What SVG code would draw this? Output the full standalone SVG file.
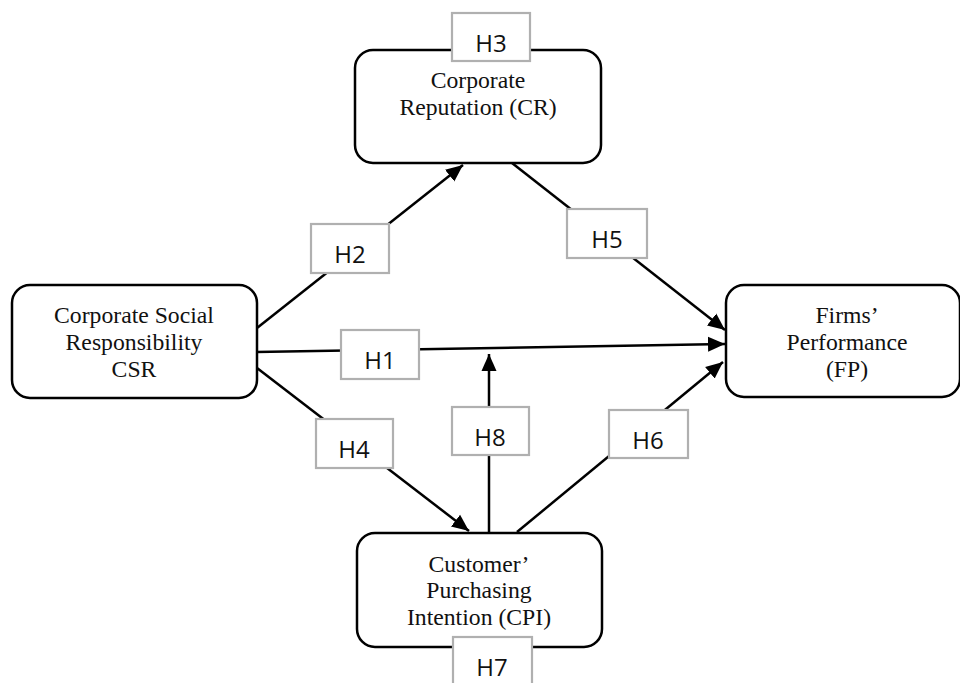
<svg xmlns="http://www.w3.org/2000/svg" width="960" height="683" viewBox="0 0 960 683">
<defs>
<style>
.node{fill:#fff;stroke:#000;stroke-width:2.5}
.nt{font-family:"Liberation Serif","Times New Roman",serif;font-size:23.7px;fill:#111;text-anchor:middle}
.lbl{fill:#fff;stroke:#b0b0b0;stroke-width:2.2}
.lt{font-family:"Open Sans","Liberation Sans",sans-serif;font-size:24px;fill:#111;text-anchor:middle}
.edge{stroke:#000;stroke-width:2.5;fill:none}
</style>
<marker id="arr" markerUnits="userSpaceOnUse" markerWidth="20" markerHeight="18" refX="17" refY="9" orient="auto">
<path d="M0,1.5 L17,9 L0,16.5 Z" fill="#000"/>
</marker>
</defs>
<rect width="960" height="683" fill="#fff"/>
<g id="connectors">
<line class="edge" x1="257" y1="328" x2="463" y2="165" marker-end="url(#arr)"/>
<line class="edge" x1="256" y1="352" x2="725" y2="344" marker-end="url(#arr)"/>
<line class="edge" x1="257" y1="368" x2="469" y2="531" marker-end="url(#arr)"/>
<line class="edge" x1="512" y1="163" x2="725" y2="330" marker-end="url(#arr)"/>
<line class="edge" x1="517" y1="532" x2="723" y2="362" marker-end="url(#arr)"/>
<line class="edge" x1="489" y1="533" x2="489" y2="354" marker-end="url(#arr)"/>
</g>
<g id="node-cr">
<rect class="node" x="355" y="50" width="246" height="113" rx="18"/>
<text class="nt" x="478" y="88">Corporate</text>
<text class="nt" x="478" y="115">Reputation (CR)</text>
</g>
<g id="node-csr">
<rect class="node" x="12" y="285" width="245" height="113" rx="18"/>
<text class="nt" x="134" y="323">Corporate Social</text>
<text class="nt" x="134" y="350">Responsibility</text>
<text class="nt" x="134" y="377">CSR</text>
</g>
<g id="node-fp">
<rect class="node" x="726" y="285" width="234" height="112" rx="18"/>
<text class="nt" x="847" y="323">Firms’</text>
<text class="nt" x="847" y="350">Performance</text>
<text class="nt" x="847" y="377">(FP)</text>
</g>
<g id="node-cpi">
<rect class="node" x="357" y="533" width="245" height="114" rx="18"/>
<text class="nt" x="479" y="572">Customer’</text>
<text class="nt" x="479" y="598">Purchasing</text>
<text class="nt" x="479" y="625">Intention (CPI)</text>
</g>
<g id="label-h3"><rect class="lbl" x="452" y="13" width="78" height="48"/><text class="lt" x="491" y="52">H3</text></g>
<g id="label-h2"><rect class="lbl" x="311" y="224" width="78" height="49"/><text class="lt" x="350" y="263">H2</text></g>
<g id="label-h1"><rect class="lbl" x="341" y="330" width="78" height="49"/><text class="lt" x="380" y="369">H1</text></g>
<g id="label-h5"><rect class="lbl" x="567" y="209" width="80" height="49"/><text class="lt" x="607" y="248">H5</text></g>
<g id="label-h4"><rect class="lbl" x="316" y="419" width="77" height="49"/><text class="lt" x="354" y="458">H4</text></g>
<g id="label-h8"><rect class="lbl" x="452" y="407" width="77" height="48"/><text class="lt" x="490" y="446">H8</text></g>
<g id="label-h6"><rect class="lbl" x="609" y="410" width="79" height="48"/><text class="lt" x="648" y="449">H6</text></g>
<g id="label-h7"><rect class="lbl" x="453" y="637" width="79" height="50"/><text class="lt" x="492" y="676">H7</text></g>
</svg>
